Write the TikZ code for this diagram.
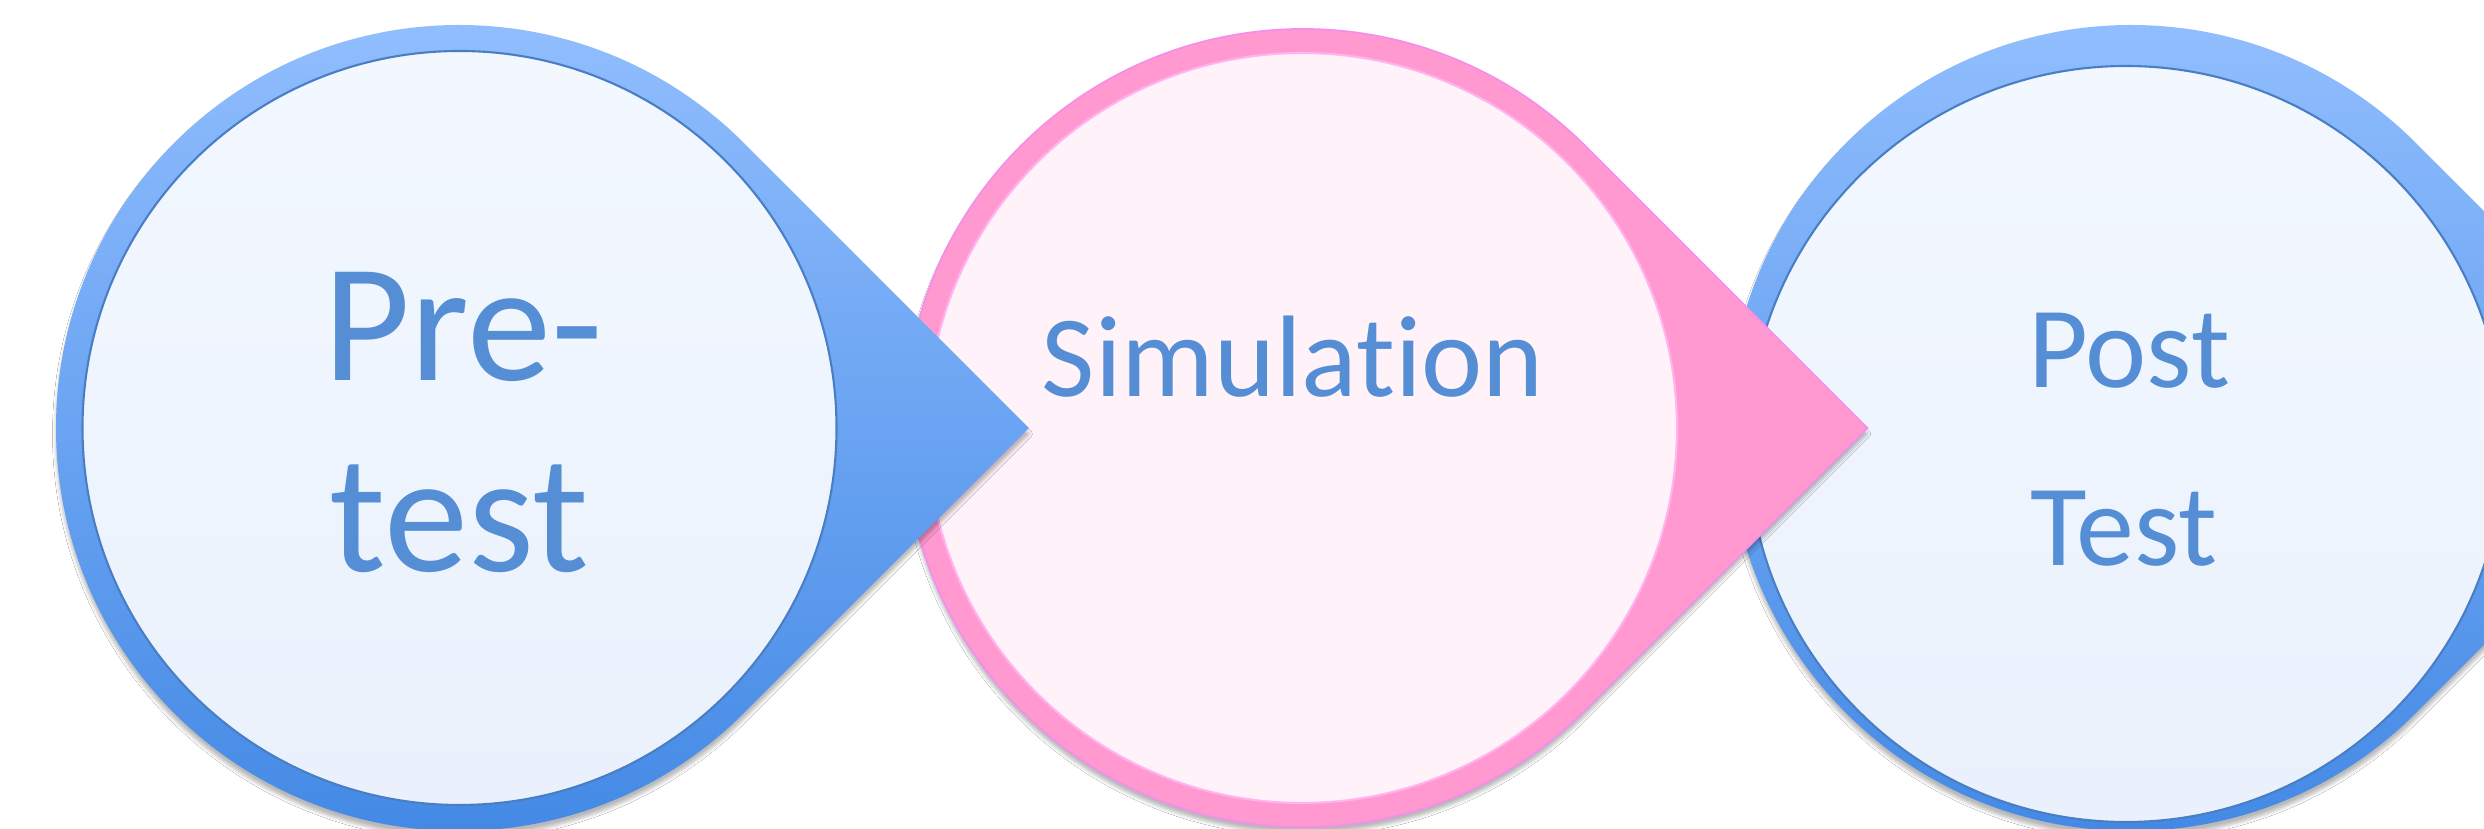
\documentclass[tikz,border=0pt]{standalone}
\usepackage{fontspec}
\setmainfont{Carlito}[Ligatures={NoCommon}]
\usetikzlibrary{shadows.blur}
\definecolor{blueTop}{RGB}{148,192,255}
\definecolor{blueBot}{RGB}{64,135,228}
\definecolor{innerTop}{RGB}{243,248,255}
\definecolor{innerBot}{RGB}{234,241,252}
\definecolor{innerLine}{RGB}{74,126,196}
\definecolor{pinkFill}{RGB}{255,153,207}
\definecolor{pinkLine}{RGB}{245,141,235}
\definecolor{pinkInner}{RGB}{255,242,249}
\definecolor{pinkInnerLine}{RGB}{255,179,240}
\definecolor{txt}{RGB}{85,142,213}
\tikzset{
  shd/.style={blur shadow={shadow xshift=0cm, shadow yshift=-0.06cm, shadow opacity=28, shadow blur steps=5, shadow blur radius=0.035cm}},
  bluedrop/.style={top color=blueTop, bottom color=blueBot, draw=none, shd},
  pinkdrop/.style={fill=pinkFill, draw=pinkLine, line width=0.5pt, shd},
  blueinner/.style={top color=innerTop, bottom color=innerBot, draw=innerLine, line width=0.6pt},
  pinkinner/.style={fill=pinkInner, draw=pinkInnerLine, line width=0.6pt},
  bigtxt/.style={text=txt, font=\fontsize{48}{54}\selectfont, anchor=base, inner sep=0pt},
  midtxt/.style={text=txt, font=\fontsize{33}{40}\selectfont, anchor=base, inner sep=0pt},
}
\newcommand{\teardrop}[4]{% style, cx, cy, r
  \path[#1] ({#2+1.41421*#4},#3) -- ({#2+0.70711*#4},{#3+0.70711*#4})
     arc[start angle=45, end angle=315, radius=#4] -- cycle;
}
\begin{document}
\begin{tikzpicture}
\useasboundingbox (0,0) rectangle (24.84,8.29);
\clip (0,0) rectangle (24.84,8.29);
\fill[white] (0,0) rectangle (24.84,8.29);
% shape 3
\teardrop{bluedrop}{21.31}{4.01}{4.03}
\path[blueinner] (21.26,3.85) circle[radius=3.78];
% shape 2
\teardrop{pinkdrop}{13.03}{4.01}{3.99}
\path[pinkinner] (13.02,4.01) circle[radius=3.75];
% shape 1
\teardrop{bluedrop}{4.59}{4.01}{4.03}
\path[blueinner] (4.595,4.01) circle[radius=3.77];
% texts
\node[bigtxt] (pre) at (4.63,4.48) {Pre-};
\node[bigtxt] (test) at (4.59,2.57) {test};
\node[midtxt] (sim) at (12.93,4.32) {Simulation};
\node[midtxt] (post) at (21.29,4.41) {Post};
\node[midtxt] (ptest) at (21.24,2.63) {Test};
\end{tikzpicture}
\end{document}
